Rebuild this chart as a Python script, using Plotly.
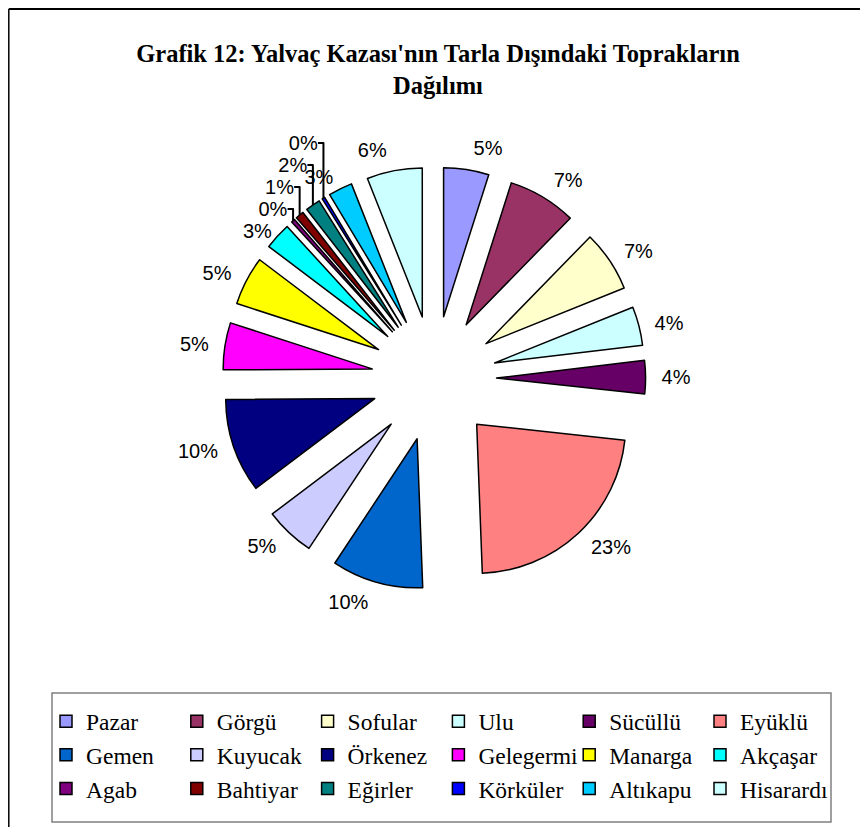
import plotly.graph_objects as go

# The page body adds an 8px margin, so the figure is 8px smaller than the window
W, H = 860, 819

labels = ["Pazar", "Görgü", "Sofular", "Ulu", "Sücüllü", "Eyüklü",
          "Gemen", "Kuyucak", "Örkenez", "Gelegermi", "Manarga", "Akçaşar",
          "Agab", "Bahtiyar", "Eğirler", "Körküler", "Altıkapu", "Hisarardı"]
values = [4.9, 7.4, 6.6, 4.2, 3.6, 22.7,
          9.9, 5.4, 10.2, 5.1, 5.3, 2.9,
          0.4, 0.9, 1.6, 0.3, 2.6, 6.0]
colors = ["#9999FF", "#993366", "#FFFFCC", "#CCFFFF", "#660066", "#FF8080",
          "#0066CC", "#CCCCFF", "#000080", "#FF00FF", "#FFFF00", "#00FFFF",
          "#800080", "#800000", "#008080", "#0000FF", "#00CCFF", "#CCFFFF"]
# slices whose labels are stacked with leader lines in the original
stacked_labels = ["Akçaşar", "Agab", "Bahtiyar", "Eğirler", "Körküler"]
# label placed on its own so that it does not push the others around
lone_labels = ["Altıkapu"]

title_text = "Grafik 12: Yalvaç Kazası'nın Tarla Dışındaki Toprakların<br>Dağılımı"

# pie geometry (figure pixels)
cx, cy = 426.0, 370.5
PULL = 0.42
radius = 149.0
PULL_TEXT = 0.49   # ring of the free-standing percentages
PULL_LONE = 0.44


def domain_for(pull):
    half = radius * (1 + pull)
    return dict(x=[(cx - half) / W, (cx + half) / W],
                y=[1 - (cy + half) / H, 1 - (cy - half) / H])


pct_font = dict(family="Liberation Sans, Arial, sans-serif", size=20, color="#000000")
clear = ["rgba(0,0,0,0)"] * len(labels)


def label_trace(shown, pull):
    return go.Pie(
        labels=labels, values=values, sort=False, direction="clockwise", rotation=0,
        pull=pull,
        marker=dict(colors=clear, line=dict(width=0)),
        texttemplate="%{percent:.0%}",
        textposition=["outside" if l in shown else "none" for l in labels],
        textfont=pct_font,
        domain=domain_for(pull), automargin=False,
        showlegend=False, hoverinfo="skip",
    )


fig = go.Figure()
# visible pie
fig.add_trace(go.Pie(
    labels=labels, values=values, sort=False, direction="clockwise", rotation=0,
    pull=PULL,
    marker=dict(colors=colors, line=dict(color="#000000", width=1.5)),
    textposition="none",
    domain=domain_for(PULL), automargin=False,
    hoverinfo="label+percent",
))
free_labels = [l for l in labels if l not in stacked_labels and l not in lone_labels]
fig.add_trace(label_trace(stacked_labels, PULL))
fig.add_trace(label_trace(free_labels, PULL_TEXT))
fig.add_trace(label_trace(lone_labels, PULL_LONE))

shapes = [
    # outer frame (left and top)
    dict(type="line", xref="paper", yref="paper", x0=0.8 / W, y0=0, x1=0.8 / W, y1=1 - 1 / H,
         line=dict(color="#000000", width=1.5)),
    dict(type="line", xref="paper", yref="paper", x0=0.8 / W, y0=1 - 1 / H, x1=1, y1=1 - 1 / H,
         line=dict(color="#000000", width=2)),
    # legend box
    dict(type="rect", xref="paper", yref="paper", x0=44 / W, x1=823 / W,
         y0=1 - 814 / H, y1=1 - 685 / H, line=dict(color="#808080", width=1.5),
         fillcolor="rgba(0,0,0,0)"),
]

fig.update_layout(
    width=W, height=H,
    margin=dict(l=0, r=0, t=0, b=0),
    paper_bgcolor="white",
    plot_bgcolor="white",
    title=dict(text=title_text, x=0.5, xanchor="center", xref="paper",
               y=1 - 54 / H, yanchor="middle", yref="container",
               font=dict(family="Liberation Serif, Times New Roman, serif", size=24.5,
                         color="#000000", weight="bold")),
    showlegend=True,
    legend=dict(orientation="h", x=38 / W, xanchor="left", y=1 - 747 / H, yanchor="middle",
                entrywidth=85.8, entrywidthmode="pixels",
                font=dict(family="Liberation Serif, Times New Roman, serif", size=23.5, color="#000000"),
                bgcolor="rgba(0,0,0,0)", borderwidth=0, traceorder="normal"),
    shapes=shapes,
)

fig.write_html("out.html")
